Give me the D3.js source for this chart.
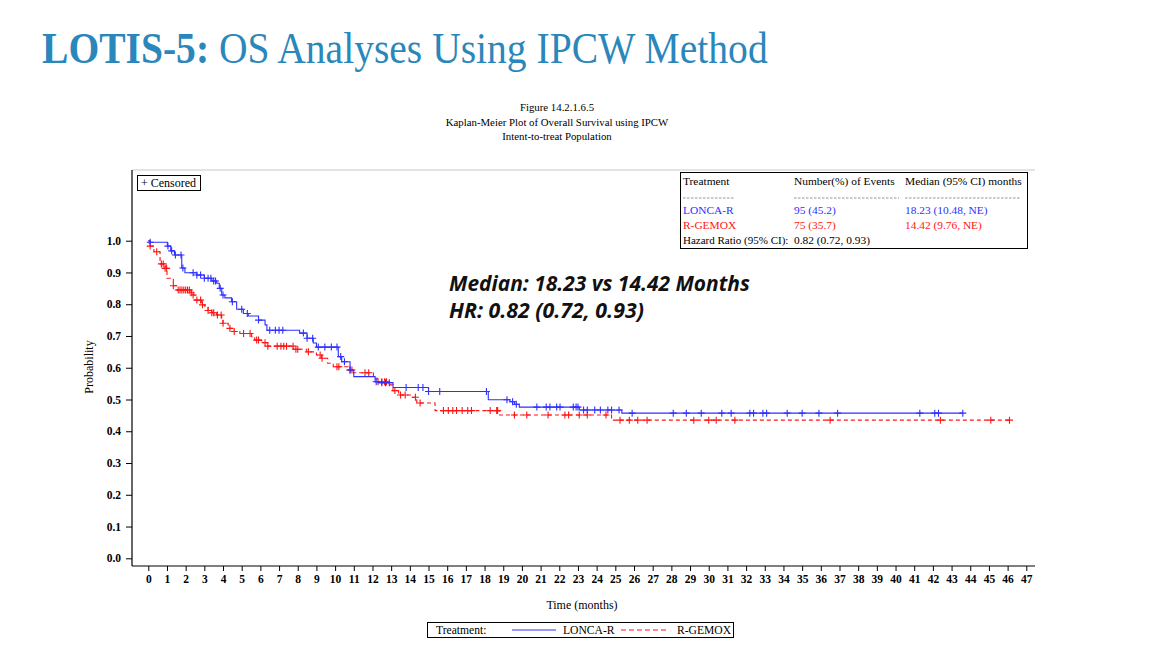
<!DOCTYPE html>
<html>
<head>
<meta charset="utf-8">
<script src="https://cdn.jsdelivr.net/npm/d3@7"></script>
<style>
  body { margin: 0; background: #fff; }
  svg { display: block; }
</style>
</head>
<body>
<div id="main"></div>
<script>
// ---- data ----
var arms = ["LONCA-R", "R-GEMOX"];
var eventsText = ["95 (45.2)", "75 (35.7)"];
var medianText = ["18.23 (10.48, NE)", "14.42 (9.76, NE)"];
var hrText = "0.82 (0.72, 0.93)";

// LONCA-R step function (time in months, survival probability)
var loncaTimes = [0, 0.1, 1.02, 1.2, 1.4, 1.79, 1.96, 2.6, 3.0, 3.4, 3.66, 3.8, 3.93, 4.1, 4.46, 4.73, 5.09, 5.35, 5.9, 6.25, 6.35,
  8.1, 8.5, 8.83, 9.0, 10.17, 10.35, 10.8, 11.0, 12.14, 12.3, 13.1, 15.0, 18.2, 19.36, 19.6, 19.86, 23.07, 25.35];
var loncaSurv = [1.0, 0.995, 0.983, 0.968, 0.955, 0.914, 0.899, 0.892, 0.882, 0.873, 0.866, 0.85, 0.829, 0.82, 0.808, 0.784, 0.771, 0.763, 0.75, 0.735, 0.718,
  0.709, 0.693, 0.678, 0.665, 0.635, 0.619, 0.593, 0.572, 0.556, 0.553, 0.538, 0.525, 0.499, 0.493, 0.485, 0.476, 0.467, 0.457];
var loncaCensor = [0.1, 1.05, 1.25, 1.45, 1.75, 1.85, 2.4, 2.6, 2.8, 3.0, 3.2, 3.35, 3.5, 3.6, 3.85, 4.0, 4.5, 5.0, 5.3, 5.9,
  6.5, 6.8, 7.0, 7.2, 8.3, 8.5, 8.8, 9.1, 9.45, 9.8, 10.1, 10.3, 10.5, 10.8, 12.2, 12.5, 12.7, 12.9, 13.8, 14.45, 14.7, 15.0,
  15.6, 18.1, 19.2, 19.5, 19.7, 20.8, 21.3, 21.5, 21.86, 22.04, 22.75, 22.9, 23.0, 23.3, 23.5, 23.9, 24.2, 24.6, 24.8, 25.2,
  25.9, 28.1, 28.8, 29.6, 30.7, 31.2, 32.2, 32.4, 32.9, 33.1, 34.2, 35.0, 35.9, 36.9, 41.3, 42.1, 42.3, 43.6];

// R-GEMOX step function
var rgemoxTimes = [0, 0.05, 0.3, 0.63, 0.9, 1.0, 1.34, 1.52, 2.3, 2.4, 2.5, 2.86, 3.03, 3.2, 3.4, 3.66, 3.93, 4.0, 4.28, 4.55,
  4.9, 5.53, 5.7, 6.07, 6.34, 7.76, 8.48, 9.0, 9.28, 9.6, 9.9, 10.7, 10.97, 12.05, 12.26, 12.94, 13.1, 13.4, 14.1, 14.37,
  15.35, 18.8, 24.8];
var rgemoxSurv = [1.0, 0.983, 0.965, 0.927, 0.913, 0.882, 0.858, 0.845, 0.836, 0.829, 0.813, 0.798, 0.79, 0.78, 0.773, 0.766,
  0.756, 0.74, 0.724, 0.714, 0.708, 0.698, 0.687, 0.679, 0.668, 0.658, 0.650, 0.640, 0.630, 0.614, 0.603, 0.593, 0.584, 0.567,
  0.556, 0.546, 0.528, 0.514, 0.507, 0.489, 0.465, 0.451, 0.435];
var rgemoxCensor = [0.1, 0.45, 0.7, 0.8, 0.9, 0.98, 1.34, 1.6, 1.7, 1.8, 1.9, 2.0, 2.1, 2.2, 2.3, 2.4, 2.6, 2.8, 2.9, 3.2, 3.4,
  3.5, 3.7, 3.9, 4.0, 4.37, 4.6, 5.1, 5.45, 5.8, 5.9, 6.25, 6.4, 6.9, 7.1, 7.25, 7.4, 7.75, 7.9, 8.0, 8.57, 9.2, 9.3, 10.1,
  10.2, 10.8, 10.9, 11.6, 11.8, 12.3, 12.5, 12.65, 12.75, 13.2, 13.5, 13.75, 14.3, 14.55, 15.8, 16.06, 16.3, 16.5, 16.8, 17.1,
  17.3, 18.3, 18.65, 18.7, 19.6, 20.26, 21.4, 22.3, 22.5, 23.07, 23.5, 24.5, 25.25, 25.75, 26.2, 26.7, 29.2, 30.0, 30.4, 31.4,
  36.5, 42.4, 45.1, 46.1];

var xTickValues = d3.range(0, 48);
var yTickValues = [0, 0.1, 0.2, 0.3, 0.4, 0.5, 0.6, 0.7, 0.8, 0.9, 1.0];

var blue = "#2f2fff", red = "#ff1414";
var serif = "'Liberation Serif', 'Times New Roman', serif";

// ---- svg ----
var svg = d3.select("#main")
  .append("svg")
  .attr("width", 1170)
  .attr("height", 657);

// slide title
var title = svg.append("text")
  .attr("x", 42)
  .attr("y", 63)
  .attr("fill", "#2a87bb")
  .style("font-family", serif)
  .style("font-size", "44px");
title.append("tspan").attr("font-weight", "bold").text("LOTIS-5:");
title.append("tspan").text(" OS Analyses Using IPCW Method");
var tw = title.node().getBBox().width;
title.attr("transform", "translate(42,0) scale(" + (726 / tw) + ",1) translate(-42,0)");

// figure header
["Figure 14.2.1.6.5", "Kaplan-Meier Plot of Overall Survival using IPCW", "Intent-to-treat Population"]
  .forEach(function (t, i) {
    svg.append("text")
      .attr("x", 557)
      .attr("y", 111 + i * 14.5)
      .attr("text-anchor", "middle")
      .style("font-family", serif)
      .style("font-size", "10.8px")
      .text(t);
  });

// scales
var x = d3.scaleLinear().domain([0, 47]).range([148.3, 1026.3]);
var y = d3.scaleLinear().domain([0, 1]).range([558.3, 240.7]);

var plotLeft = 132, plotRight = 1035, plotTop = 170, plotBottom = 566;

// frame
svg.append("line").attr("x1", plotLeft).attr("x2", plotRight).attr("y1", plotTop).attr("y2", plotTop)
  .attr("stroke", "#c8c8c8").attr("stroke-width", 1);
svg.append("line").attr("x1", plotLeft).attr("x2", plotLeft).attr("y1", plotTop).attr("y2", plotBottom)
  .attr("stroke", "#000").attr("stroke-width", 1.2);
svg.append("line").attr("x1", plotLeft).attr("x2", plotRight).attr("y1", plotBottom).attr("y2", plotBottom)
  .attr("stroke", "#000").attr("stroke-width", 1.2);

// axes
var gx = svg.append("g")
  .attr("transform", "translate(0," + plotBottom + ")")
  .call(d3.axisBottom(x).tickValues(xTickValues).tickSize(5).tickPadding(4).tickFormat(d3.format("d")));
var gy = svg.append("g")
  .attr("transform", "translate(" + plotLeft + ",0)")
  .call(d3.axisLeft(y).tickValues(yTickValues).tickSize(6).tickPadding(5).tickFormat(d3.format(".1f")));
[gx, gy].forEach(function (g) {
  g.select(".domain").remove();
  g.selectAll("text")
    .style("font-family", serif)
    .style("font-size", "11.5px")
    .style("font-weight", "bold")
    .attr("fill", "#000");
  g.selectAll("line").attr("stroke", "#000");
});

// axis labels
svg.append("text")
  .attr("x", 582).attr("y", 609)
  .attr("text-anchor", "middle")
  .style("font-family", serif).style("font-size", "12px")
  .text("Time (months)");
svg.append("text")
  .attr("transform", "translate(93,367) rotate(-90)")
  .attr("text-anchor", "middle")
  .style("font-family", serif).style("font-size", "12px")
  .text("Probability");

// survival curves
function stepAt(times, surv, t) {
  var i = d3.bisectRight(times, t) - 1;
  return surv[Math.max(0, i)];
}

function drawArm(times, surv, censor, color, dash) {
  var end = d3.max(censor);
  var pts = times.map(function (t, i) { return [t, surv[i]]; });
  pts.push([end, surv[surv.length - 1]]);
  svg.append("path")
    .datum(pts)
    .attr("fill", "none")
    .attr("stroke", color)
    .attr("stroke-width", 1.1)
    .attr("stroke-dasharray", dash)
    .attr("d", d3.line()
      .curve(d3.curveStepAfter)
      .x(function (d) { return x(d[0]); })
      .y(function (d) { return y(d[1]); })
    );
  svg.append("g").selectAll("path")
    .data(censor)
    .enter()
    .append("path")
    .attr("fill", "none")
    .attr("stroke", color)
    .attr("stroke-width", 1.1)
    .attr("d", function (d) {
      var cx = x(d), cy = y(stepAt(times, surv, d));
      return "M" + (cx - 3.5) + "," + cy + "h7M" + cx + "," + (cy - 3.5) + "v7";
    });
}

drawArm(rgemoxTimes, rgemoxSurv, rgemoxCensor, red, "4,3");
drawArm(loncaTimes, loncaSurv, loncaCensor, blue, null);

// censored box
svg.append("rect").attr("x", 137.5).attr("y", 175.5).attr("width", 63).attr("height", 15)
  .attr("fill", "#fff").attr("stroke", "#000").attr("stroke-width", 1);
svg.append("text").attr("x", 141).attr("y", 186.5)
  .style("font-family", serif).style("font-size", "12px")
  .text("+ Censored");

// summary table
svg.append("rect").attr("x", 680.5).attr("y", 172.5).attr("width", 347).attr("height", 76)
  .attr("fill", "#fff").attr("stroke", "#000").attr("stroke-width", 1);
var cols = [683, 794, 905];
var colEnd = [735, 899, 1021];
var rows = [185, 199, 214, 229, 243.5];
function cell(txt, cx, cy, color) {
  return svg.append("text").attr("x", cx).attr("y", cy)
    .attr("fill", color || "#000")
    .style("font-family", serif).style("font-size", "11.4px")
    .text(txt);
}
cell("Treatment", cols[0], rows[0]);
cell("Number(%) of Events", cols[1], rows[0]);
cell("Median (95% CI) months", cols[2], rows[0]);
cols.forEach(function (c, i) {
  svg.append("line").attr("x1", c).attr("x2", colEnd[i]).attr("y1", rows[1] - 1).attr("y2", rows[1] - 1)
    .attr("stroke", "#666").attr("stroke-width", 0.7).attr("stroke-dasharray", "2.5,1.5");
});
[blue, red].forEach(function (c, i) {
  cell(arms[i], cols[0], rows[2 + i], c);
  cell(eventsText[i], cols[1], rows[2 + i], c);
  cell(medianText[i], cols[2], rows[2 + i], c);
});
cell("Hazard Ratio (95% CI):", cols[0], rows[4]).style("font-size", "11px");
cell(hrText, cols[1], rows[4]);

// annotation
function fitText(txt, tx, ty, targetW) {
  var t = svg.append("text").attr("x", tx).attr("y", ty)
    .attr("fill", "#111")
    .style("font-family", "'Open Sans', Lato, sans-serif")
    .style("font-style", "italic")
    .style("font-weight", "bold")
    .style("font-size", "19px")
    .text(txt);
  var w = t.node().getComputedTextLength();
  t.style("font-size", (19 * targetW / w) + "px");
}
fitText("Median: 18.23 vs 14.42 Months", 449, 291, 301);
fitText("HR: 0.82 (0.72, 0.93)", 449, 318, 195);

// bottom legend
svg.append("rect").attr("x", 427.5).attr("y", 622.5).attr("width", 306).attr("height", 15)
  .attr("fill", "#fff").attr("stroke", "#000").attr("stroke-width", 1);
svg.append("text").attr("x", 436).attr("y", 634)
  .style("font-family", serif).style("font-size", "11.6px").text("Treatment:");
svg.append("line").attr("x1", 512).attr("x2", 556).attr("y1", 630).attr("y2", 630)
  .attr("stroke", blue).attr("stroke-width", 1.1);
svg.append("text").attr("x", 563).attr("y", 634)
  .style("font-family", serif).style("font-size", "11.6px").text(arms[0]);
svg.append("line").attr("x1", 621).attr("x2", 668).attr("y1", 630).attr("y2", 630)
  .attr("stroke", red).attr("stroke-width", 1.1).attr("stroke-dasharray", "5,3");
svg.append("text").attr("x", 677).attr("y", 634)
  .style("font-family", serif).style("font-size", "11.6px").text(arms[1]);
</script>
</body>
</html>
